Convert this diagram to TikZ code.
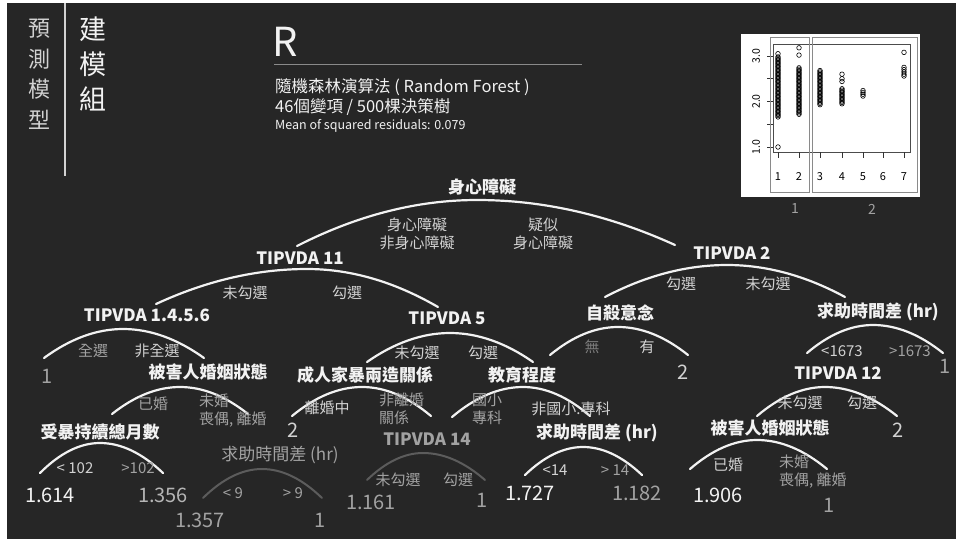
\documentclass[tikz,border=0pt]{standalone}
\usepackage{fontspec}
\setmainfont{Noto Sans CJK TC}
\usetikzlibrary{calc}
\definecolor{bgc}{HTML}{262626}
\definecolor{wt}{HTML}{F2F2F2}
\definecolor{lt}{HTML}{D2D2D2}
\definecolor{md}{HTML}{A2A2A2}
\definecolor{dk}{HTML}{5C5C5C}
\definecolor{frm}{HTML}{8A8A8A}
\newcommand\treearc[8]{%
  \coordinate (#1-l) at (#3,#4);
  \coordinate (#1-p) at (#5,#6);
  \coordinate (#1-r) at (#7,#8);
  \draw[#2] (#1-l) .. controls ({#3+(#5-#3)/3},{#4+2*(#6-#4)/3}) and ({#5-(#5-#3)/3},#6) .. (#1-p)
    .. controls ({#5+(#7-#5)/3},#6) and ({#7-(#7-#5)/3},{#8+2*(#6-#8)/3}) .. (#1-r);
}
\begin{document}
\begin{tikzpicture}[x=1pt,y=-1pt,
  ttl/.style={font=\bfseries\fontsize{17}{19}\selectfont, text=wt, inner sep=0pt},
  dttl/.style={font=\fontsize{17}{19}\selectfont, text=md, inner sep=0pt},
  lab/.style={font=\fontsize{15}{18}\selectfont, text=lt, inner sep=0pt, align=center},
  dlab/.style={font=\fontsize{15}{18}\selectfont, text=md, inner sep=0pt, align=left},
  leaf/.style={font=\fontsize{20}{22}\selectfont, text=lt, inner sep=0pt},
  dleaf/.style={font=\fontsize{20}{22}\selectfont, text=md, inner sep=0pt},
  arcw/.style={draw=wt, line width=2.2pt, line cap=round},
  arcd/.style={draw=dk, line width=2pt, line cap=round},
  pt/.style={draw=black, line width=0.6pt}]
\useasboundingbox (0,0) rectangle (956,539);
\fill[white] (0,0) rectangle (956,539);
\fill[bgc] (7,3) rectangle (956,539);

% left header
\node[font=\fontsize{22}{30.5}\selectfont, text=lt, align=center, inner sep=0pt, anchor=north] (hdA) at (39,19) {預\\測\\模\\型};
\draw[lt, line width=1.5pt] (65,3) -- (65,176);
\node[font=\fontsize{27}{35}\selectfont, text=wt, align=center, inner sep=0pt, anchor=north] (hdB) at (93,17) {建\\模\\組};

% title block
\node[font=\fontsize{40}{44}\selectfont, text=wt, inner sep=0pt, anchor=west] (rR) at (272,42) {R};
\draw[frm, line width=1pt] (274,64) -- (582,64);
\node[font=\fontsize{16.5}{20}\selectfont, text=wt, inner sep=0pt, anchor=west] (t1) at (275,87) {隨機森林演算法 ( Random Forest )};
\node[font=\fontsize{16.5}{20}\selectfont, text=wt, inner sep=0pt, anchor=west] (t2) at (275,107) {46個變項 / 500棵決策樹};
\node[font=\fontsize{12.5}{14}\selectfont, text=wt, inner sep=0pt, anchor=west] (t3) at (275,126) {Mean of squared residuals: 0.079};

% inset plot
\fill[white] (741,34) rectangle (920,197);
\draw[black!70, line width=0.6pt] (773,44) rectangle (910,152);
\foreach \yy in {1,1.5,2,2.5,3} \draw[black!80, line width=0.6pt] (767,{147-(\yy-1)*45.5}) -- (773,{147-(\yy-1)*45.5});
\foreach \xx in {778,799,820,842,863,883,904} \draw[black!80, line width=0.6pt] (\xx,152) -- (\xx,158);
\node[rotate=90, font=\fontsize{10.5}{12}\selectfont, inner sep=0pt] (yl1) at (756,147) {1.0};
\node[rotate=90, font=\fontsize{10.5}{12}\selectfont, inner sep=0pt] (yl2) at (756,101.5) {2.0};
\node[rotate=90, font=\fontsize{10.5}{12}\selectfont, inner sep=0pt] (yl3) at (756,56) {3.0};
\foreach \xx/\lb in {778/1,799/2,820/3,842/4,863/5,883/6,904/7}
  \node[font=\fontsize{11}{12}\selectfont, inner sep=0pt] (xl\lb) at (\xx,177) {\lb};
\foreach \v in {1.66,1.69,...,2.99} \draw[pt] (778,{147-(\v-1)*45.5}) circle (2.3);
\draw[pt] (778,{147-(3.05-1)*45.5}) circle (2.3);
\draw[pt] (778,147) circle (2.3);
\foreach \v in {1.72,1.75,...,2.76} \draw[pt] (799,{147-(\v-1)*45.5}) circle (2.3);
\draw[pt] (799,{147-(3.02-1)*45.5}) circle (2.3);
\draw[pt] (799,{147-(3.18-1)*45.5}) circle (2.3);
\foreach \v in {1.93,1.96,...,2.69} \draw[pt] (820,{147-(\v-1)*45.5}) circle (2.3);
\foreach \v in {1.95,1.98,...,2.3} \draw[pt] (842,{147-(\v-1)*45.5}) circle (2.3);
\foreach \v in {2.44,2.5,2.6} \draw[pt] (842,{147-(\v-1)*45.5}) circle (2.3);
\foreach \v in {2.12,2.16,...,2.28} \draw[pt] (863,{147-(\v-1)*45.5}) circle (2.3);
\foreach \v in {2.56,2.6,2.65,2.7,2.75,3.08} \draw[pt] (904,{147-(\v-1)*45.5}) circle (2.3);
\draw[frm, line width=1pt] (770,37) rectangle (809,192);
\draw[frm, line width=1pt] (812,37) rectangle (917,192);
\node[font=\fontsize{14}{16}\selectfont, text=md, inner sep=0pt] (g1) at (795,209) {1};
\node[font=\fontsize{14}{16}\selectfont, text=md, inner sep=0pt] (g2) at (872,209) {2};

% ---------- tree ----------
\node[ttl] (root) at (482,187) {身心障礙};
\treearc{aroot}{arcw}{297}{246}{477}{200}{675}{245}
\node[lab] (lroot1) at (417,234) {身心障礙\\非身心障礙};
\node[lab] (lroot2) at (543,234) {疑似\\身心障礙};

\node[ttl] (t11) at (300,258) {TIPVDA 11};
\treearc{a11}{arcw}{156}{304}{307}{269}{438}{307}
\node[lab] (l11a) at (245,293) {未勾選};
\node[lab] (l11b) at (347,293) {勾選};

\node[ttl] (t2n) at (732,253) {TIPVDA 2};
\treearc{a2}{arcw}{605}{297}{727}{265}{845}{297}
\node[lab] (l2a) at (681,284) {勾選};
\node[lab] (l2b) at (768,284) {未勾選};

\node[ttl] (t1456) at (147,315) {TIPVDA 1.4.5.6};
\treearc{a1456}{arcw}{44}{358}{123}{329}{204}{358}
\node[dlab] (l1456a) at (93,351) {全選};
\node[lab] (l1456b) at (157,351) {非全選};
\node[dleaf] (leafA) at (47,376) {1};

\node[ttl] (mar1) at (208,372) {被害人婚姻狀態};
\treearc{amar1}{arcw}{112}{414}{180}{387}{248}{414}
\node[dlab] (lmar1a) at (153,404) {已婚};
\node[dlab, anchor=north west] (lmar1b) at (199,394) {未婚\\喪偶, 離婚};
\node[leaf] (leafB) at (293,430) {2};

\node[ttl] (mon) at (100,432) {受暴持續總月數};
\treearc{amon}{arcw}{40}{473}{100}{443}{163}{473}
\node[lab] (lmona) at (75,468) {< 102};
\node[dlab] (lmonb) at (138,468) {>102};
\node[leaf, text=wt] (leafC) at (50,495) {1.614};
\node[leaf, text=md!60!lt] (leafD) at (163,495) {1.356};

\node[dttl] (hlp1) at (280,455) {求助時間差 (hr)};
\treearc{ahlp1}{arcd}{203}{498}{262}{469}{322}{498}
\node[dlab] (lhlp1a) at (233,493) {< 9};
\node[dlab] (lhlp1b) at (293,493) {> 9};
\node[dleaf] (leafE) at (200,520) {1.357};
\node[dleaf] (leafF) at (320,520) {1};

\node[ttl] (t5) at (447,318) {TIPVDA 5};
\treearc{a5}{arcw}{367}{362}{450}{333}{533}{362}
\node[lab] (l5a) at (417,353) {未勾選};
\node[lab] (l5b) at (483,353) {勾選};

\node[ttl] (fam) at (365,375) {成人家暴兩造關係};
\treearc{afam}{arcw}{292}{416}{362}{387}{431}{416}
\node[lab] (lfama) at (327,408) {離婚中};
\node[dlab, anchor=north west] (lfamb) at (379,393) {非離婚\\關係};

\node[dttl, font=\bfseries\fontsize{17}{19}\selectfont] (t14) at (427,439) {TIPVDA 14};
\treearc{a14}{arcd}{367}{480}{423}{453}{485}{480}
\node[dlab] (l14a) at (398,480) {未勾選};
\node[dlab] (l14b) at (458,480) {勾選};
\node[dleaf] (leafG) at (371,502) {1.161};
\node[dleaf] (leafH) at (482,500) {1};

\node[ttl] (edu) at (522,375) {教育程度};
\treearc{aedu}{arcw}{452}{417}{523}{387}{590}{416}
\node[dlab, anchor=north west] (ledua) at (472,393) {國小\\專科};
\node[lab] (ledub) at (571,409) {非國小.專科};

\node[ttl] (hlp2) at (597,433) {求助時間差 (hr)};
\treearc{ahlp2}{arcw}{525}{475}{583}{447}{642}{475}
\node[lab] (lhlp2a) at (555,470) {<14};
\node[dlab] (lhlp2b) at (615,470) {> 14};
\node[leaf, text=wt] (leafI) at (530,493) {1.727};
\node[dleaf] (leafJ) at (637,493) {1.182};

\node[ttl] (sui) at (620,313) {自殺意念};
\treearc{asui}{arcw}{550}{355}{618}{327}{688}{355}
\node[dlab, text=md!70!bgc] (lsuia) at (592,347) {無};
\node[lab] (lsuib) at (647,347) {有};
\node[leaf] (leafK) at (683,372) {2};

\node[ttl] (hlp3) at (878,312) {求助時間差 (hr)};
\treearc{ahlp3}{arcw}{807}{353}{873}{325}{943}{353}
\node[lab] (lhlp3a) at (842,351) {<1673};
\node[dlab] (lhlp3b) at (910,351) {>1673};
\node[dleaf] (leafL) at (945,366) {1};

\node[ttl] (t12) at (838,373) {TIPVDA 12};
\treearc{a12}{arcw}{757}{416}{825}{387}{897}{416}
\node[lab] (l12a) at (800,403) {未勾選};
\node[lab] (l12b) at (862,403) {勾選};
\node[leaf] (leafM) at (898,430) {2};

\node[ttl] (mar2) at (770,428) {被害人婚姻狀態};
\treearc{amar2}{arcw}{690}{469}{757}{440}{827}{469}
\node[lab] (lmar2a) at (728,465) {已婚};
\node[dlab, anchor=north west] (lmar2b) at (779,455) {未婚\\喪偶, 離婚};
\node[leaf, text=wt] (leafN) at (718,495) {1.906};
\node[dleaf] (leafO) at (829,505) {1};
\end{tikzpicture}
\end{document}
